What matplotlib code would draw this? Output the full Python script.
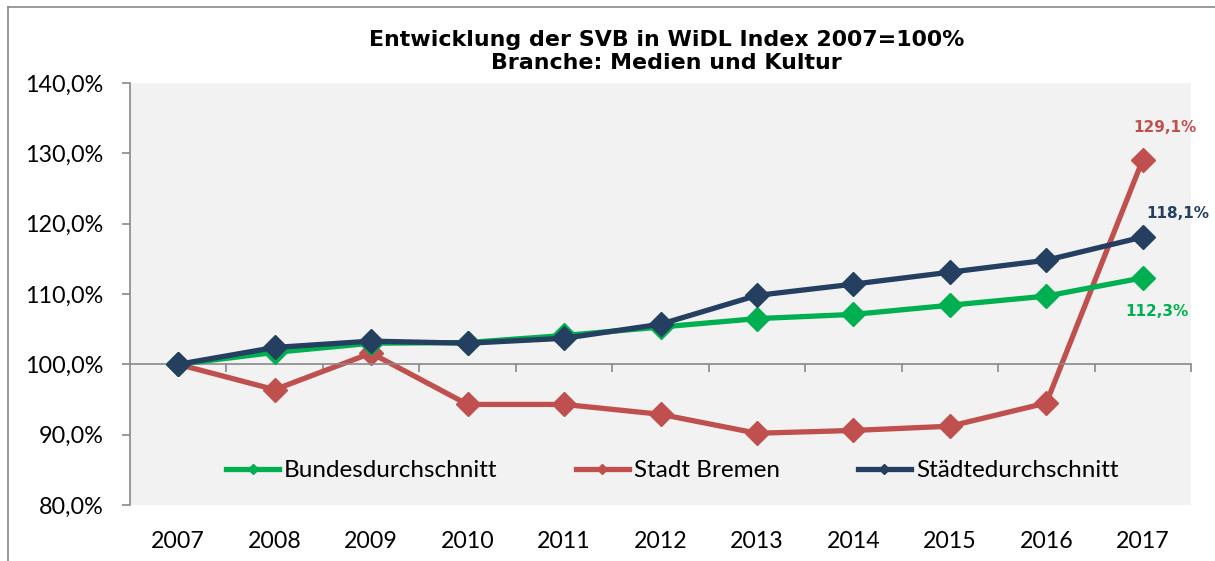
import matplotlib
matplotlib.use("Agg")
import matplotlib.pyplot as plt
from matplotlib.lines import Line2D
from matplotlib.ticker import FixedLocator, FuncFormatter

years = ["2007", "2008", "2009", "2010", "2011", "2012", "2013", "2014", "2015", "2016", "2017"]
series_names = ["Bundesdurchschnitt", "Stadt Bremen", "Städtedurchschnitt"]
bund = [100.0, 101.7, 103.0, 103.1, 104.1, 105.3, 106.5, 107.1, 108.4, 109.7, 112.3]
bremen = [100.0, 96.4, 101.6, 94.3, 94.3, 92.9, 90.2, 90.6, 91.2, 94.5, 129.1]
staedte = [100.0, 102.4, 103.3, 103.0, 103.7, 105.7, 109.8, 111.4, 113.1, 114.8, 118.1]
y_ticks = [80, 90, 100, 110, 120, 130, 140]
title_lines = ["Entwicklung der SVB in WiDL Index 2007=100%", "Branche: Medien und Kultur"]

colors = ["#00B050", "#C0504D", "#243F60"]
label_font = "Lato"

fig = plt.figure(figsize=(12.15, 5.61), dpi=100)
ax = fig.add_axes([130/1215, 1-505/561, (1191-130)/1215, (505-83)/561])
ax.set_facecolor("#F2F2F2")

x = list(range(len(years)))
data = [bund, bremen, staedte]
for vals, col, z in zip(data, colors, [3, 2, 4]):
    ax.plot(x, vals, color=col, lw=3.8, marker="D", markersize=12, zorder=z,
            solid_joinstyle="miter")

ax.set_xlim(-0.5, len(years) - 0.5)
ax.set_ylim(y_ticks[0], y_ticks[-1])
ax.set_yticks(y_ticks)
ax.yaxis.set_major_formatter(FuncFormatter(lambda v, p: f"{v:.1f}".replace(".", ",") + "%"))
ax.tick_params(axis="y", direction="out", length=6, width=1.2, color="#898989",
               labelsize=16.8, pad=13)
for lab in ax.get_yticklabels():
    lab.set_fontfamily(label_font)

for s in ["top", "right"]:
    ax.spines[s].set_visible(False)
ax.spines["left"].set_color("#898989")
ax.spines["left"].set_linewidth(1.2)
ax.spines["bottom"].set_position(("data", 100))
ax.spines["bottom"].set_color("#898989")
ax.spines["bottom"].set_linewidth(1.2)
ax.xaxis.set_major_locator(FixedLocator([i + 0.5 for i in range(len(years))]))
ax.tick_params(axis="x", direction="out", length=6, width=1.2, color="#898989",
               labelbottom=False)

sec = ax.secondary_xaxis(location=0)
sec.set_xticks(x, labels=years)
sec.tick_params(axis="x", length=0, labelsize=16.7, pad=19)
sec.spines["bottom"].set_visible(False)
for lab in sec.get_xticklabels():
    lab.set_fontfamily(label_font)

def pct(v):
    return f"{v:.1f}".replace(".", ",") + "%"

ax.annotate(pct(bremen[-1]), (x[-1], bremen[-1]),
            xytext=(16, 23), textcoords="offset points", ha="center", va="center",
            color=colors[1], fontsize=11, fontweight="bold", family="DejaVu Sans")
ax.annotate(pct(staedte[-1]), (x[-1], staedte[-1]),
            xytext=(25, 17), textcoords="offset points", ha="center", va="center",
            color=colors[2], fontsize=11, fontweight="bold", family="DejaVu Sans")
ax.annotate(pct(bund[-1]), (x[-1], bund[-1]),
            xytext=(10, -24), textcoords="offset points", ha="center", va="center",
            color=colors[0], fontsize=11, fontweight="bold", family="DejaVu Sans")

handles = [Line2D([], [], color=c, lw=3.8, marker="D", markersize=5) for c in colors]
leg = ax.legend(handles, series_names, loc="lower center", bbox_to_anchor=(0.511, 0.005),
                ncol=3, frameon=False, handlelength=2.2, handletextpad=0.2,
                columnspacing=3.2, prop={"family": label_font, "size": 17.5})

fig.text(0.5486, 1-40/561, title_lines[0], ha="center", va="center",
         fontsize=15.9, fontweight="bold", family="DejaVu Sans")
fig.text(0.5486, 1-63/561, title_lines[1], ha="center", va="center",
         fontsize=15.9, fontweight="bold", family="DejaVu Sans")

fig.add_artist(Line2D([8/1215, 8/1215], [0, 1-7/561], transform=fig.transFigure,
                      color="#898989", lw=1.2))
fig.add_artist(Line2D([8/1215, 1], [1-7/561, 1-7/561], transform=fig.transFigure,
                      color="#898989", lw=1.2))

fig.savefig("out.png", dpi=100)
